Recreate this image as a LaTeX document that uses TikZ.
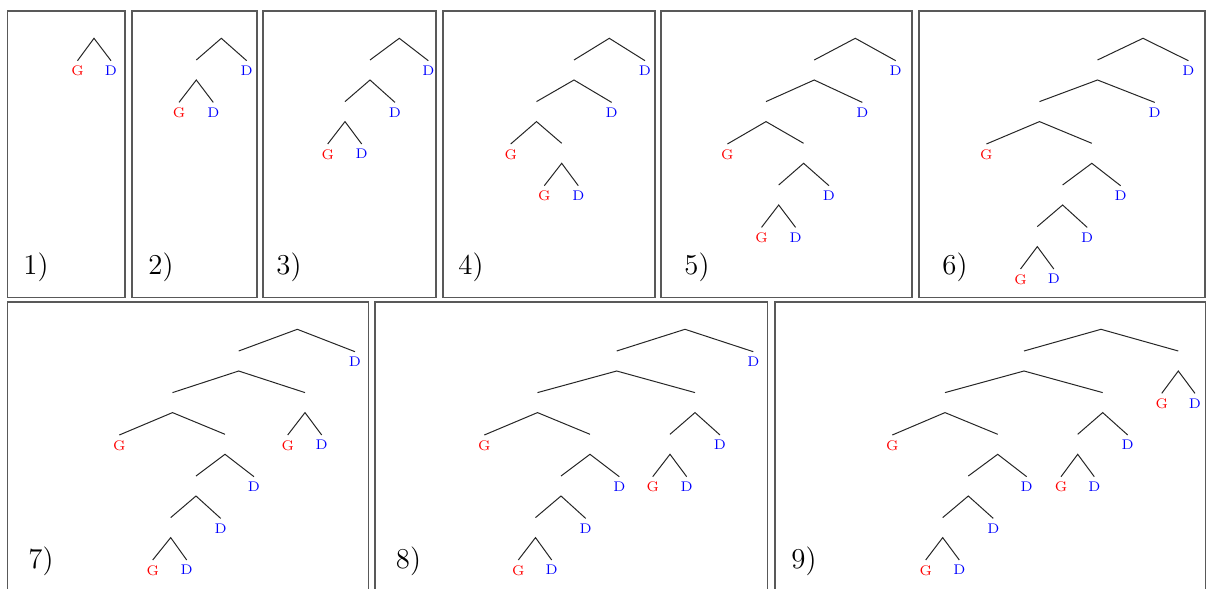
\documentclass[tikz,border=0pt]{standalone}
\usepackage{tikz}

\begin{document}
\begin{tikzpicture}[
  x=0.5pt, y=-0.5pt,
  panel/.style={draw=black!65, line width=0.9pt},
  knot/.style={inner sep=0pt, minimum width=0pt, minimum height=9.6pt, anchor=south},
  gleaf/.style={text=red, font=\scriptsize, inner sep=2.5pt, anchor=north},
  dleaf/.style={text=blue, font=\scriptsize, inner sep=2.5pt, anchor=north},
  branch/.style={black!85, line width=0.5pt},
  tag/.style={font=\Large, anchor=base west, inner sep=0pt}
]
\useasboundingbox (0,0) rectangle (1206,589);
\clip (0,0) rectangle (1206,589);

% frames
\draw[panel] (7.5,10.7) rectangle (125,297.5);
\draw[panel] (131.7,10.7) rectangle (256.7,297.5);
\draw[panel] (263.3,10.7) rectangle (435.7,297.5);
\draw[panel] (442.7,10.7) rectangle (655,297.5);
\draw[panel] (661.3,10.7) rectangle (912.2,297.5);
\draw[panel] (919.3,10.7) rectangle (1204.7,297.5);
\draw[panel] (7.5,301.7) rectangle (368.5,600);
\draw[panel] (374.7,301.7) rectangle (767.5,600);
\draw[panel] (774.7,301.7) rectangle (1206,600);

\node[tag] (t1) at (23,274) {1)};
\node[tag] (t2) at (148,274) {2)};
\node[tag] (t3) at (276,274) {3)};
\node[tag] (t4) at (458,274) {4)};
\node[tag] (t5) at (684,274) {5)};
\node[tag] (t6) at (942,274) {6)};
\node[tag] (t7) at (28,568.5) {7)};
\node[tag] (t8) at (395.5,568.5) {8)};
\node[tag] (t9) at (791,568.5) {9)};

% 1)
\node[knot] (p1a) at (94,38.3) {};
\node[gleaf] (p1g) at (77.5,60.7) {G};
\node[dleaf] (p1d) at (111,60.7) {D};
\draw[branch] (p1g.north) -- (p1a.south) -- (p1d.north);

% 2)
\node[knot] (p2a) at (221.3,38.3) {};
\node[knot] (p2b) at (196.3,80) {};
\node[dleaf] (p2d) at (246.7,60.7) {D};
\node[gleaf] (p2bg) at (179,102.4) {G};
\node[dleaf] (p2bd) at (213.3,102.4) {D};
\draw[branch] (p2b.north) -- (p2a.south) -- (p2d.north);
\draw[branch] (p2bg.north) -- (p2b.south) -- (p2bd.north);

% 3)
\node[knot] (p3a) at (399.3,38.3) {};
\node[knot] (p3b) at (370,80) {};
\node[knot] (p3c) at (345,121.6) {};
\node[dleaf] (p3d) at (428.3,60.7) {D};
\node[dleaf] (p3bd) at (395,102.4) {D};
\node[gleaf] (p3cg) at (327.7,144) {G};
\node[dleaf] (p3cd) at (361.7,144) {D};
\draw[branch] (p3b.north) -- (p3a.south) -- (p3d.north);
\draw[branch] (p3c.north) -- (p3b.south) -- (p3bd.north);
\draw[branch] (p3cg.north) -- (p3c.south) -- (p3cd.north);

% 4)
\node[knot] (p4a) at (609.3,38.3) {};
\node[knot] (p4b) at (574,80) {};
\node[knot] (p4c) at (536.5,121.6) {};
\node[knot] (p4e) at (561.7,163.3) {};
\node[dleaf] (p4d) at (645,60.7) {D};
\node[dleaf] (p4bd) at (611.7,102.4) {D};
\node[gleaf] (p4cg) at (510.7,144) {G};
\node[gleaf] (p4eg) at (544.3,185.7) {G};
\node[dleaf] (p4ed) at (578.3,185.7) {D};
\draw[branch] (p4b.north) -- (p4a.south) -- (p4d.north);
\draw[branch] (p4c.north) -- (p4b.south) -- (p4bd.north);
\draw[branch] (p4cg.north) -- (p4c.south) -- (p4e.north);
\draw[branch] (p4eg.north) -- (p4e.south) -- (p4ed.north);

% 5)
\node[knot] (p5a) at (855.3,38.3) {};
\node[knot] (p5b) at (814.2,80) {};
\node[knot] (p5c) at (766,121.6) {};
\node[knot] (p5e) at (803.6,163.3) {};
\node[knot] (p5f) at (778.7,205) {};
\node[dleaf] (p5d) at (895.7,60.7) {D};
\node[dleaf] (p5bd) at (862.3,102.4) {D};
\node[gleaf] (p5cg) at (727.4,144) {G};
\node[dleaf] (p5ed) at (829,185.7) {D};
\node[gleaf] (p5fg) at (761.5,227.4) {G};
\node[dleaf] (p5fd) at (795.6,227.4) {D};
\draw[branch] (p5b.north) -- (p5a.south) -- (p5d.north);
\draw[branch] (p5c.north) -- (p5b.south) -- (p5bd.north);
\draw[branch] (p5cg.north) -- (p5c.south) -- (p5e.north);
\draw[branch] (p5f.north) -- (p5e.south) -- (p5ed.north);
\draw[branch] (p5fg.north) -- (p5f.south) -- (p5fd.north);

% 6)
\node[knot] (p6a) at (1143,38.3) {};
\node[knot] (p6b) at (1097.5,80) {};
\node[knot] (p6c) at (1039.5,121.6) {};
\node[knot] (p6e) at (1091.8,163.3) {};
\node[knot] (p6f) at (1062.6,205) {};
\node[knot] (p6h) at (1037.3,246.6) {};
\node[dleaf] (p6d) at (1188.4,60.7) {D};
\node[dleaf] (p6bd) at (1154.7,102.4) {D};
\node[gleaf] (p6cg) at (986.4,144) {G};
\node[dleaf] (p6ed) at (1120.6,185.7) {D};
\node[dleaf] (p6fd) at (1087.2,227.4) {D};
\node[gleaf] (p6hg) at (1020.5,269) {G};
\node[dleaf] (p6hd) at (1053.8,269) {D};
\draw[branch] (p6b.north) -- (p6a.south) -- (p6d.north);
\draw[branch] (p6c.north) -- (p6b.south) -- (p6bd.north);
\draw[branch] (p6cg.north) -- (p6c.south) -- (p6e.north);
\draw[branch] (p6f.north) -- (p6e.south) -- (p6ed.north);
\draw[branch] (p6h.north) -- (p6f.south) -- (p6fd.north);
\draw[branch] (p6hg.north) -- (p6h.south) -- (p6hd.north);

% 7)
\node[knot] (p7a) at (297.3,329.3) {};
\node[knot] (p7b) at (238.7,371) {};
\node[knot] (p7c) at (172.5,412.6) {};
\node[knot] (p7r) at (305,412.6) {};
\node[knot] (p7e) at (225,454.3) {};
\node[knot] (p7f) at (196,496) {};
\node[knot] (p7h) at (170.7,537.6) {};
\node[dleaf] (p7d) at (355,351.7) {D};
\node[gleaf] (p7cg) at (119.3,435) {G};
\node[gleaf] (p7rg) at (287.7,435) {G};
\node[dleaf] (p7rd) at (321.7,435) {D};
\node[dleaf] (p7ed) at (254,476.7) {D};
\node[dleaf] (p7fd) at (220.7,518.4) {D};
\node[gleaf] (p7hg) at (152.7,560) {G};
\node[dleaf] (p7hd) at (186.7,560) {D};
\draw[branch] (p7b.north) -- (p7a.south) -- (p7d.north);
\draw[branch] (p7c.north) -- (p7b.south) -- (p7r.north);
\draw[branch] (p7cg.north) -- (p7c.south) -- (p7e.north);
\draw[branch] (p7rg.north) -- (p7r.south) -- (p7rd.north);
\draw[branch] (p7f.north) -- (p7e.south) -- (p7ed.north);
\draw[branch] (p7h.north) -- (p7f.south) -- (p7fd.north);
\draw[branch] (p7hg.north) -- (p7h.south) -- (p7hd.north);

% 8)
\node[knot] (p8a) at (685,329.3) {};
\node[knot] (p8b) at (616.7,371) {};
\node[knot] (p8c) at (537.5,412.6) {};
\node[knot] (p8r) at (695,412.6) {};
\node[knot] (p8e) at (590,454.3) {};
\node[knot] (p8s) at (670,454.3) {};
\node[knot] (p8f) at (561,496) {};
\node[knot] (p8h) at (535.5,537.6) {};
\node[dleaf] (p8d) at (753.3,351.7) {D};
\node[gleaf] (p8cg) at (484.3,435) {G};
\node[dleaf] (p8rd) at (720,435) {D};
\node[gleaf] (p8sg) at (652.7,476.7) {G};
\node[dleaf] (p8sd) at (686.7,476.7) {D};
\node[dleaf] (p8ed) at (619.3,476.7) {D};
\node[dleaf] (p8fd) at (585.7,518.4) {D};
\node[gleaf] (p8hg) at (518.3,560) {G};
\node[dleaf] (p8hd) at (551.7,560) {D};
\draw[branch] (p8b.north) -- (p8a.south) -- (p8d.north);
\draw[branch] (p8c.north) -- (p8b.south) -- (p8r.north);
\draw[branch] (p8cg.north) -- (p8c.south) -- (p8e.north);
\draw[branch] (p8s.north) -- (p8r.south) -- (p8rd.north);
\draw[branch] (p8sg.north) -- (p8s.south) -- (p8sd.north);
\draw[branch] (p8f.north) -- (p8e.south) -- (p8ed.north);
\draw[branch] (p8h.north) -- (p8f.south) -- (p8fd.north);
\draw[branch] (p8hg.north) -- (p8h.south) -- (p8hd.north);

% 9)
\node[knot] (p9a) at (1101,329.3) {};
\node[knot] (p9b) at (1024,371) {};
\node[knot] (p9q) at (1178.3,371) {};
\node[knot] (p9c) at (945,412.6) {};
\node[knot] (p9r) at (1102.7,412.6) {};
\node[knot] (p9e) at (997.7,454.3) {};
\node[knot] (p9s) at (1077.7,454.3) {};
\node[knot] (p9f) at (968.3,496) {};
\node[knot] (p9h) at (942.7,537.6) {};
\node[gleaf] (p9qg) at (1161.7,393.4) {G};
\node[dleaf] (p9qd) at (1195,393.4) {D};
\node[gleaf] (p9cg) at (892.3,435) {G};
\node[dleaf] (p9rd) at (1127.7,435) {D};
\node[gleaf] (p9sg) at (1061,476.7) {G};
\node[dleaf] (p9sd) at (1094.3,476.7) {D};
\node[dleaf] (p9ed) at (1026.7,476.7) {D};
\node[dleaf] (p9fd) at (993.3,518.4) {D};
\node[gleaf] (p9hg) at (925.7,560) {G};
\node[dleaf] (p9hd) at (959.3,560) {D};
\draw[branch] (p9b.north) -- (p9a.south) -- (p9q.north);
\draw[branch] (p9qg.north) -- (p9q.south) -- (p9qd.north);
\draw[branch] (p9c.north) -- (p9b.south) -- (p9r.north);
\draw[branch] (p9cg.north) -- (p9c.south) -- (p9e.north);
\draw[branch] (p9s.north) -- (p9r.south) -- (p9rd.north);
\draw[branch] (p9sg.north) -- (p9s.south) -- (p9sd.north);
\draw[branch] (p9f.north) -- (p9e.south) -- (p9ed.north);
\draw[branch] (p9h.north) -- (p9f.south) -- (p9fd.north);
\draw[branch] (p9hg.north) -- (p9h.south) -- (p9hd.north);
\end{tikzpicture}
\end{document}
